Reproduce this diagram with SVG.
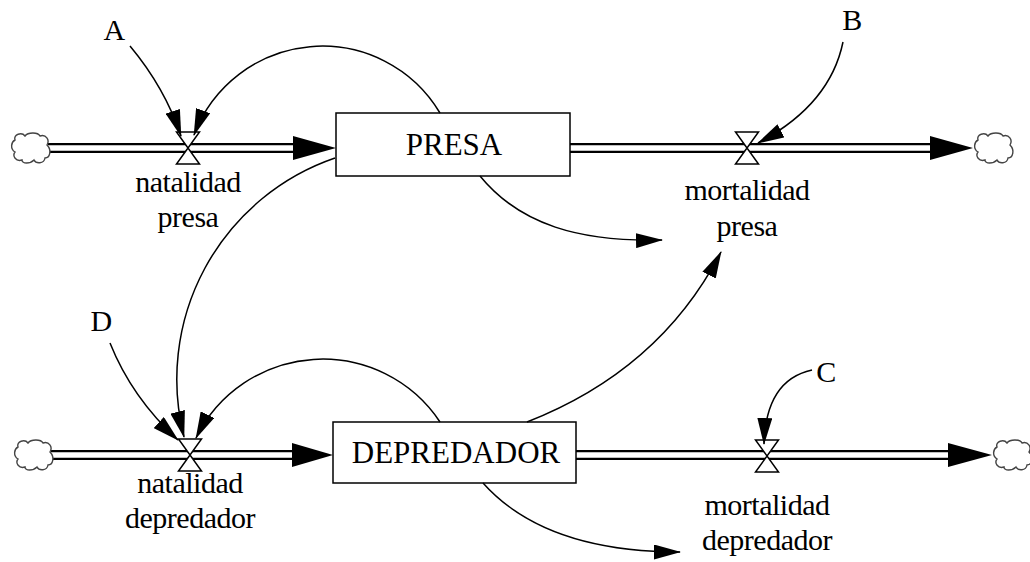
<svg xmlns="http://www.w3.org/2000/svg" width="1030" height="562" viewBox="0 0 1030 562">
<style>
.lbl{font-family:"Liberation Serif","Times New Roman",serif;font-size:30px;fill:#000;text-anchor:middle;letter-spacing:-0.5px}
.box{fill:#fff;stroke:#000;stroke-width:1.5}
.boxt{font-family:"Liberation Serif","Times New Roman",serif;font-size:31px;fill:#000;text-anchor:middle}
.pipeo{stroke:#000;stroke-width:10;fill:none}
.pipei{stroke:#fff;stroke-width:5.5;fill:none}
.valve{fill:#fff;stroke:#000;stroke-width:1.5;stroke-linejoin:miter}
.cloud{fill:#fff;stroke:#444;stroke-width:1.4}
.conn{fill:none;stroke:#000;stroke-width:1.5;marker-end:url(#ah)}
.flowhead{fill:#000}
</style>
<defs>
<marker id="ah" markerUnits="userSpaceOnUse" viewBox="0 0 27 15" refX="26" refY="7.5" markerWidth="27" markerHeight="15" orient="auto">
<path d="M0,0 L27,7.5 L0,15 Z" fill="#000"/>
</marker>
<path id="cloudshape" d="M5,8 C3,2 12,0 15,4 C18,0 28,0 30,4 C36,2 40,8 37,13 C42,18 40,26 35,26 C34,32 26,32 24,28 C20,32 12,32 12,28 C6,30 2,24 5,20 C0,17 1,10 5,8 Z"/>
<path id="valveshape" d="M-11.5,-16 H11.5 L-11.5,16 H11.5 Z"/>
</defs>
<rect width="1030" height="562" fill="#fff"/>

<g id="flows">
<g id="flow-natalidad-presa">
<line class="pipeo" x1="48" y1="148" x2="296" y2="148"/>
<line class="pipei" x1="45" y1="148" x2="296" y2="148"/>
<polygon class="flowhead" points="293,136 336,148 293,160"/>
</g>
<g id="flow-mortalidad-presa">
<line class="pipeo" x1="570" y1="148" x2="933" y2="148"/>
<line class="pipei" x1="568" y1="148" x2="933" y2="148"/>
<polygon class="flowhead" points="930,136 973,148 930,160"/>
</g>
<g id="flow-natalidad-depredador">
<line class="pipeo" x1="51" y1="455" x2="295" y2="455"/>
<line class="pipei" x1="48" y1="455" x2="295" y2="455"/>
<polygon class="flowhead" points="292,443 333,455 292,467"/>
</g>
<g id="flow-mortalidad-depredador">
<line class="pipeo" x1="576" y1="455" x2="951" y2="455"/>
<line class="pipei" x1="574" y1="455" x2="951" y2="455"/>
<polygon class="flowhead" points="948,443 992,455 948,467"/>
</g>
</g>

<g id="cloud-1"><use href="#cloudshape" class="cloud" transform="translate(10,132)"/></g>
<g id="cloud-2"><use href="#cloudshape" class="cloud" transform="translate(973,132)"/></g>
<g id="cloud-3"><use href="#cloudshape" class="cloud" transform="translate(13,439)"/></g>
<g id="cloud-4"><use href="#cloudshape" class="cloud" transform="translate(992,439)"/></g>

<g id="PRESA">
<rect class="box" x="336" y="113" width="234" height="63"/>
<text class="boxt" x="454" y="155">PRESA</text>
</g>
<g id="DEPREDADOR">
<rect class="box" x="333" y="422" width="243" height="61"/>
<text class="boxt" x="456" y="463">DEPREDADOR</text>
</g>

<g id="natalidad-presa">
<use href="#valveshape" class="valve" transform="translate(188,148)"/>
<text class="lbl" x="188" y="192">natalidad</text>
<text class="lbl" x="188" y="227">presa</text>
</g>
<g id="mortalidad-presa">
<use href="#valveshape" class="valve" transform="translate(747,148)"/>
<text class="lbl" x="747" y="200">mortalidad</text>
<text class="lbl" x="747" y="236">presa</text>
</g>
<g id="natalidad-depredador">
<use href="#valveshape" class="valve" transform="translate(190,455)"/>
<text class="lbl" x="190" y="493">natalidad</text>
<text class="lbl" x="190" y="528">depredador</text>
</g>
<g id="mortalidad-depredador">
<use href="#valveshape" class="valve" transform="translate(767,456)"/>
<text class="lbl" x="767" y="515">mortalidad</text>
<text class="lbl" x="767" y="550">depredador</text>
</g>

<g id="A"><text class="lbl" x="114" y="40">A</text></g>
<g id="B"><text class="lbl" x="852" y="30">B</text></g>
<g id="C"><text class="lbl" x="826" y="382">C</text></g>
<g id="D"><text class="lbl" x="101" y="331">D</text></g>

<g id="connectors">
<path class="conn" d="M130,46 Q165,88 181,136"/>
<path class="conn" d="M440,113 A137,137 0 0 0 194,135"/>
<path class="conn" d="M335,158 A234,234 0 0 0 184,437"/>
<path class="conn" d="M110,343 Q132,398 178,440"/>
<path class="conn" d="M440,422 A141,141 0 0 0 196,438"/>
<path class="conn" d="M480,176 C520,225 580,242 662,240"/>
<path class="conn" d="M483,483 C525,530 590,552 680,552"/>
<path class="conn" d="M527,422 Q660,370 721,252"/>
<path class="conn" d="M843,42 Q830,105 758,143"/>
<path class="conn" d="M812,370 Q766,380 764,444"/>
</g>
</svg>
